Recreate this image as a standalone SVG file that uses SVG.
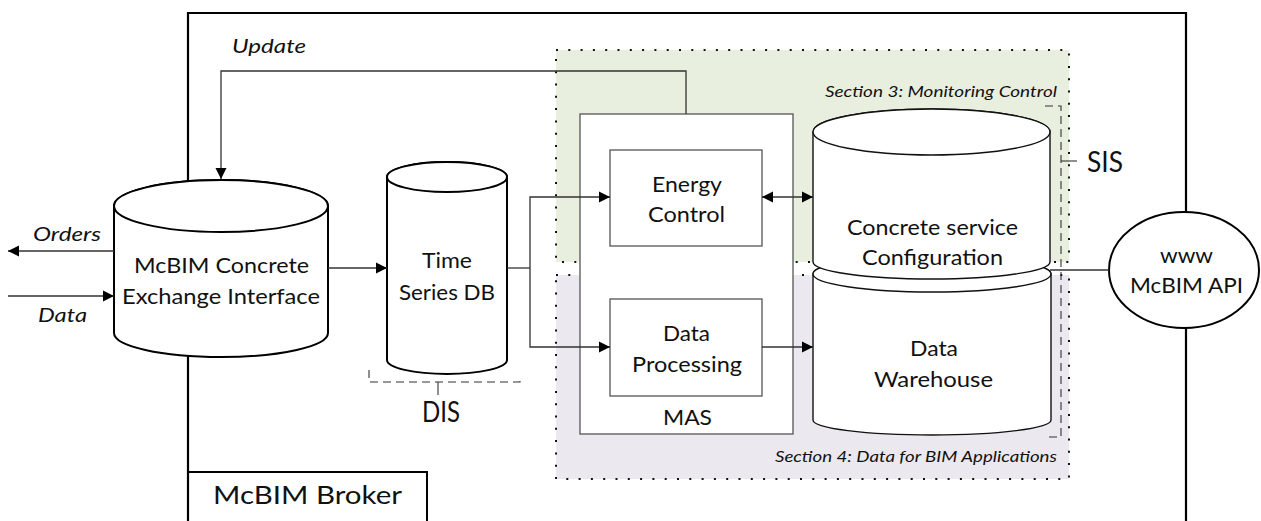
<svg xmlns="http://www.w3.org/2000/svg" width="1261" height="521" viewBox="0 0 1261 521">
  <defs>
    <marker id="arr" markerWidth="12" markerHeight="12" refX="11" refY="6" orient="auto-start-reverse" markerUnits="userSpaceOnUse">
      <path d="M0,0.5 L11,6 L0,11.5 Z" fill="#000"/>
    </marker>
  </defs>
  <style>
    text { font-family: Lato, "Open Sans", "Liberation Sans", sans-serif; fill: #111; }
    .lbl { font-size: 21px; text-anchor: middle; }
    .it { font-style: italic; font-size: 20px; }
    .sec { font-style: italic; font-size: 16px; }
    .big { font-size: 28px; }
    .cylThick { fill: #fff; stroke: #000; stroke-width: 2; }
    .cylThin { fill: #fff; stroke: #111; stroke-width: 1.4; }
    .box { fill: #fff; stroke: #555; stroke-width: 1.3; }
    .conn { fill: none; stroke: #333; stroke-width: 1.3; }
    .dots { stroke: #111; stroke-width: 2; stroke-dasharray: 2 10.3; }
    .bracket { fill: none; stroke: #333; stroke-width: 1.1; stroke-dasharray: 8 5; }
  </style>

  <!-- Section backgrounds -->
  <g id="section3">
    <rect x="556" y="50" width="513" height="212" fill="#e9efde"/>
    <path class="dots" fill="none" d="M556 50 H1069 V262 H556 Z"/>
    <text class="sec" x="825" y="97" textLength="232" lengthAdjust="spacingAndGlyphs">Section 3: Monitoring Control</text>
  </g>
  <g id="section4">
    <rect x="556" y="275" width="513" height="204" fill="#ebe8f0"/>
    <path class="dots" fill="none" d="M556 275 H1069 V479 H556 Z"/>
    <text class="sec" x="775" y="462" textLength="282" lengthAdjust="spacingAndGlyphs">Section 4: Data for BIM Applications</text>
  </g>

  <!-- Broker frame -->
  <g id="broker">
    <path d="M188 530 V13 H1186 V530" fill="none" stroke="#000" stroke-width="2.2"/>
    <path d="M188 472 H427 V530" fill="#fff" stroke="#000" stroke-width="2"/>
    <text x="213" y="504" style="font-size:25px" textLength="189" lengthAdjust="spacingAndGlyphs">McBIM Broker</text>
  </g>

  <!-- McBIM Concrete Exchange Interface -->
  <g id="exchange-interface">
    <path class="cylThick" d="M114 206 V333 A107 24 0 0 0 328 333 V206 A107 26 0 0 0 114 206 Z"/>
    <ellipse class="cylThick" cx="221" cy="206" rx="107" ry="26"/>
    <text class="lbl" x="221.5" y="273" textLength="175" lengthAdjust="spacingAndGlyphs">McBIM Concrete</text>
    <text class="lbl" x="221" y="304" textLength="198" lengthAdjust="spacingAndGlyphs">Exchange Interface</text>
  </g>

  <!-- Time Series DB -->
  <g id="time-series-db">
    <path class="cylThick" d="M387 177 V360 A60 14 0 0 0 507 360 V177 A60 15 0 0 0 387 177 Z"/>
    <ellipse class="cylThick" cx="447" cy="177" rx="60" ry="15"/>
    <text class="lbl" x="447" y="268" textLength="50" lengthAdjust="spacingAndGlyphs">Time</text>
    <text class="lbl" x="447" y="300" textLength="96" lengthAdjust="spacingAndGlyphs">Series DB</text>
  </g>

  <!-- DIS bracket -->
  <g id="dis">
    <path class="bracket" d="M369 370 V382 H520 V376"/>
    <path d="M438 382 V395" stroke="#333" stroke-width="1.1"/>
    <text class="big" x="441" y="422" text-anchor="middle" textLength="38" lengthAdjust="spacingAndGlyphs">DIS</text>
  </g>

  <!-- MAS -->
  <g id="mas">
    <rect class="box" x="580" y="114" width="213" height="320"/>
    <text class="lbl" x="687.5" y="425" textLength="49" lengthAdjust="spacingAndGlyphs">MAS</text>
  </g>
  <g id="energy-control">
    <rect class="box" x="610" y="150" width="152" height="96" stroke="#333"/>
    <text class="lbl" x="687" y="192" textLength="70" lengthAdjust="spacingAndGlyphs">Energy</text>
    <text class="lbl" x="686.5" y="222" textLength="77" lengthAdjust="spacingAndGlyphs">Control</text>
  </g>
  <g id="data-processing">
    <rect class="box" x="610" y="299" width="152" height="97" stroke="#333"/>
    <text class="lbl" x="686.5" y="341" textLength="47" lengthAdjust="spacingAndGlyphs">Data</text>
    <text class="lbl" x="687" y="372" textLength="110" lengthAdjust="spacingAndGlyphs">Processing</text>
  </g>

  <!-- Data Warehouse (behind) -->
  <g id="data-warehouse">
    <path class="cylThin" d="M813 274 V420 A119 15 0 0 0 1051 420 V274 A119 18 0 0 0 813 274 Z"/>
    <ellipse class="cylThin" cx="932" cy="274" rx="119" ry="18"/>
    <text class="lbl" x="934" y="356" textLength="48" lengthAdjust="spacingAndGlyphs">Data</text>
    <text class="lbl" x="933.5" y="387" textLength="119" lengthAdjust="spacingAndGlyphs">Warehouse</text>
  </g>

  <!-- Concrete service Configuration -->
  <g id="service-configuration">
    <path class="cylThin" d="M813 132 V262 A118.5 17 0 0 0 1050 262 V132 A118.5 23 0 0 0 813 132 Z"/>
    <ellipse class="cylThin" cx="931.5" cy="132" rx="118.5" ry="23"/>
    <text class="lbl" x="932.5" y="235" textLength="171" lengthAdjust="spacingAndGlyphs">Concrete service</text>
    <text class="lbl" x="932.5" y="265" textLength="141" lengthAdjust="spacingAndGlyphs">Configuration</text>
  </g>

  <!-- SIS bracket -->
  <g id="sis">
    <path class="bracket" d="M1045 106 H1061 V437 H1045"/>
    <path d="M1061 161 H1077" stroke="#333" stroke-width="1.1"/>
    <text class="big" x="1087" y="172" textLength="36" lengthAdjust="spacingAndGlyphs">SIS</text>
  </g>

  <!-- McBIM API -->
  <g id="mcbim-api">
    <ellipse cx="1184" cy="270" rx="75" ry="58" fill="#fff" stroke="#000" stroke-width="2"/>
    <text class="lbl" x="1186.5" y="263" textLength="53" lengthAdjust="spacingAndGlyphs">www</text>
    <text class="lbl" x="1186.5" y="293" textLength="113" lengthAdjust="spacingAndGlyphs">McBIM API</text>
  </g>

  <!-- Connectors -->
  <g id="connectors">
    <path class="conn" d="M686 114 V71 H221 V179" marker-end="url(#arr)"/>
    <text class="it" x="232" y="53" textLength="74" lengthAdjust="spacingAndGlyphs">Update</text>
    <path class="conn" d="M114 251 H8" marker-end="url(#arr)"/>
    <text class="it" x="33" y="241" textLength="68" lengthAdjust="spacingAndGlyphs">Orders</text>
    <path class="conn" d="M8 296 H114" marker-end="url(#arr)"/>
    <text class="it" x="38" y="322" textLength="49" lengthAdjust="spacingAndGlyphs">Data</text>
    <path class="conn" d="M328 268 H387" marker-end="url(#arr)"/>
    <path class="conn" d="M507 268 H530"/>
    <path class="conn" d="M530 268 V197 H610" marker-end="url(#arr)"/>
    <path class="conn" d="M530 268 V347 H610" marker-end="url(#arr)"/>
    <path class="conn" d="M762 197 H813" marker-start="url(#arr)" marker-end="url(#arr)"/>
    <path class="conn" d="M762 347 H813" marker-end="url(#arr)"/>
    <path class="conn" d="M1050 270 H1109"/>
  </g>
</svg>
